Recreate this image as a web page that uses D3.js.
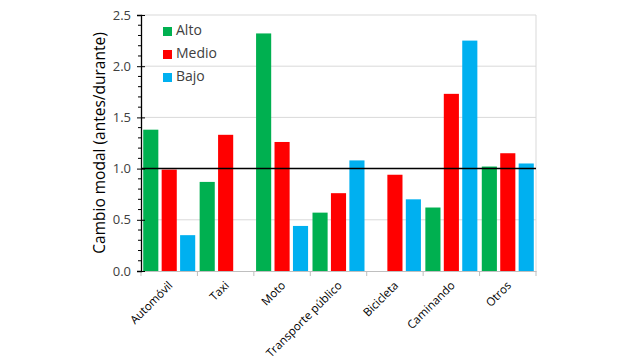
<!DOCTYPE html>
<html><head><meta charset="utf-8">
<script src="https://cdn.jsdelivr.net/npm/d3@7"></script>
<style>body{margin:0;background:#fff;}svg{display:block;font-family:"Open Sans",sans-serif;}</style>
</head><body><svg id="c" width="625" height="360"></svg>
<script>
const categories = ["Automóvil","Taxi","Moto","Transporte público","Bicicleta","Caminando","Otros"];
const seriesNames = ["Alto","Medio","Bajo"];
const alto  = [1.38, 0.87, 2.32, 0.57, null, 0.62, 1.02];
const medio = [0.99, 1.33, 1.26, 0.76, 0.94, 1.73, 1.15];
const bajo  = [0.35, null, 0.44, 1.08, 0.70, 2.25, 1.05];
const yTicks = [0.0, 0.5, 1.0, 1.5, 2.0, 2.5];
const colors = ["#00B050","#FF0000","#00B0F0"];
const seriesValues = [alto, medio, bajo];

const svg = d3.select("#c");
const m = {l:141, r:536, t:15, b:271};
const x = d3.scaleBand().domain(categories).range([m.l, m.r]).paddingInner(0).paddingOuter(0);
const xs = d3.scaleBand().domain(seriesNames).range([0, x.bandwidth()]).paddingInner(0.18).paddingOuter(0.12);
const y = d3.scaleLinear().domain([0, 2.5]).range([m.b, m.t]);

// gridlines
svg.append("g").selectAll("line").data(yTicks.filter(d=>d>0)).join("line")
  .attr("x1", m.l).attr("x2", m.r).attr("y1", d=>y(d)).attr("y2", d=>y(d))
  .attr("stroke", "#d9d9d9").attr("stroke-width", 1);
// right border
svg.append("line").attr("x1", m.r).attr("x2", m.r).attr("y1", m.t).attr("y2", m.b)
  .attr("stroke", "#d9d9d9");

// bars
categories.forEach((c, i) => {
  seriesNames.forEach((s, j) => {
    const v = seriesValues[j][i];
    if (v == null) return;
    svg.append("rect")
      .attr("x", x(c) + xs(s)).attr("width", xs.bandwidth())
      .attr("y", y(v)).attr("height", y(0) - y(v))
      .attr("fill", colors[j]);
  });
});

// x axis
const xAxis = d3.axisBottom(x).tickSize(0).tickFormat("");
const gx = svg.append("g").attr("transform", `translate(0,${m.b})`).call(xAxis);
gx.select(".domain").attr("stroke", "#bfbfbf");
svg.append("g").selectAll("line").data(d3.range(categories.length + 1)).join("line")
  .attr("x1", d=>m.l + d*x.step()).attr("x2", d=>m.l + d*x.step())
  .attr("y1", m.b).attr("y2", m.b + 5).attr("stroke", "#bfbfbf");
svg.append("g").selectAll("text").data(categories).join("text")
  .attr("transform", d=>`translate(${x(d) + x.bandwidth()/2 + 2},${m.b + 13}) rotate(-45)`)
  .attr("text-anchor", "end").attr("dominant-baseline", "middle")
  .attr("font-size", 11.5).attr("fill", "#000").text(d=>d);

// y axis
const yAxis = d3.axisLeft(y).tickValues(yTicks).tickSize(4).tickPadding(6).tickFormat(d3.format(".1f"));
const gy = svg.append("g").attr("transform", `translate(${m.l},0)`).call(yAxis);
gy.select(".domain").attr("stroke", "#000").attr("stroke-width", 1.3);
gy.selectAll(".tick line").attr("stroke", "#000").attr("x2", -4).attr("x1", 4);
gy.selectAll(".tick text").attr("font-size", 13).attr("fill", "#404040").attr("font-family", "Open Sans");
const minor = d3.range(0, 2.51, 0.1).filter(d => Math.abs(d*2 - Math.round(d*2)) > 0.01);
svg.append("g").selectAll("line").data(minor).join("line")
  .attr("x1", m.l - 3).attr("x2", m.l).attr("y1", d=>y(d)).attr("y2", d=>y(d))
  .attr("stroke", "#000");

// reference line at 1.0
svg.append("line").attr("x1", m.l).attr("x2", m.r).attr("y1", y(1)).attr("y2", y(1))
  .attr("stroke", "#000").attr("stroke-width", 1.5);

// y title
svg.append("text").attr("transform", `translate(${101},${(m.t+m.b)/2}) rotate(-90)`)
  .attr("text-anchor", "middle").attr("dominant-baseline", "middle")
  .attr("font-size", 15.5).attr("fill", "#000").text("Cambio modal (antes/durante)");

// legend
const lg = svg.append("g");
seriesNames.forEach((s, j) => {
  const cy = 31.5 + j*23;
  lg.append("rect").attr("x", 163).attr("y", cy - 4.5).attr("width", 9).attr("height", 9).attr("fill", colors[j]);
  lg.append("text").attr("x", 176).attr("y", cy).attr("dominant-baseline", "middle")
    .attr("font-size", 14).attr("fill", "#404040").text(s);
});
</script></body></html>
